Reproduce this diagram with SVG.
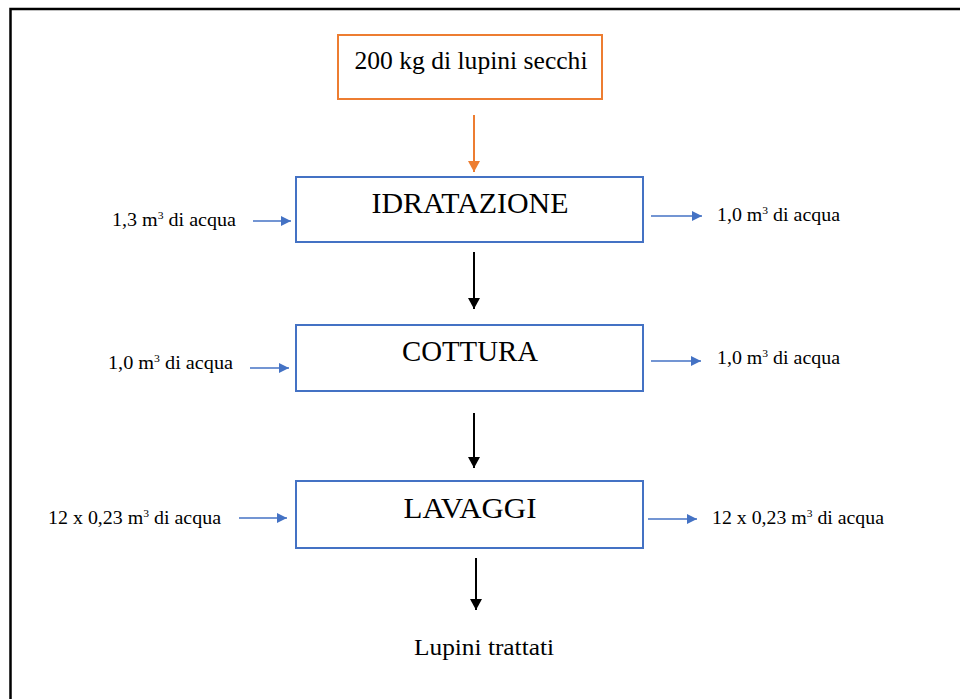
<svg xmlns="http://www.w3.org/2000/svg" width="960" height="699" viewBox="0 0 960 699">
<style>
.t{font-family:"Liberation Serif","Times New Roman",serif;fill:#000}
.lbl{font-size:19px}
.box{fill:#fff;stroke:#4472C4;stroke-width:2}
.ob{fill:#fff;stroke:#ED7D31;stroke-width:2}
.bl{stroke:#4472C4;stroke-width:1.3;fill:none}
.bk{stroke:#000;stroke-width:2;fill:none}
.or{stroke:#ED7D31;stroke-width:2;fill:none}
</style>
<defs>
<marker id="mb" markerUnits="userSpaceOnUse" markerWidth="12" markerHeight="10" refX="10" refY="5" orient="auto"><path d="M0,0 L10,5 L0,10 Z" fill="#4472C4"/></marker>
<marker id="mk" markerUnits="userSpaceOnUse" markerWidth="12" markerHeight="12" refX="11" refY="6" orient="auto"><path d="M0,0 L11,6 L0,12 Z" fill="#000"/></marker>
<marker id="mo" markerUnits="userSpaceOnUse" markerWidth="12" markerHeight="12" refX="11" refY="6" orient="auto"><path d="M0,0 L11,6 L0,12 Z" fill="#ED7D31"/></marker>
</defs>
<rect width="960" height="699" fill="#fff"/>
<path d="M10.5,699 V9 H960" stroke="#000" stroke-width="2.5" fill="none"/>

<g id="input">
<rect class="ob" x="338" y="35" width="264" height="64"/>
<text class="t" x="471" y="69" font-size="25" text-anchor="middle" textLength="233" lengthAdjust="spacingAndGlyphs">200 kg di lupini secchi</text>
</g>
<g id="idratazione">
<rect class="box" x="296" y="177" width="347" height="65"/>
<text class="t" x="470" y="213" font-size="30" text-anchor="middle" textLength="197" lengthAdjust="spacingAndGlyphs">IDRATAZIONE</text>
</g>
<g id="cottura">
<rect class="box" x="296" y="325" width="347" height="66"/>
<text class="t" x="470" y="361" font-size="30" text-anchor="middle" textLength="136" lengthAdjust="spacingAndGlyphs">COTTURA</text>
</g>
<g id="lavaggi">
<rect class="box" x="296" y="481" width="347" height="67"/>
<text class="t" x="470" y="518" font-size="30" text-anchor="middle" textLength="133" lengthAdjust="spacingAndGlyphs">LAVAGGI</text>
</g>
<g id="output">
<text class="t" x="484" y="655" font-size="23" text-anchor="middle" textLength="140" lengthAdjust="spacingAndGlyphs">Lupini trattati</text>
</g>

<g id="labels">
<text class="t lbl" x="112" y="226" textLength="124" lengthAdjust="spacingAndGlyphs">1,3 m<tspan font-size="11" dy="-7">3</tspan><tspan dy="7"> di acqua</tspan></text>
<text class="t lbl" x="717" y="221" textLength="123" lengthAdjust="spacingAndGlyphs">1,0 m<tspan font-size="11" dy="-7">3</tspan><tspan dy="7"> di acqua</tspan></text>
<text class="t lbl" x="108" y="369" textLength="125" lengthAdjust="spacingAndGlyphs">1,0 m<tspan font-size="11" dy="-7">3</tspan><tspan dy="7"> di acqua</tspan></text>
<text class="t lbl" x="717" y="364" textLength="123" lengthAdjust="spacingAndGlyphs">1,0 m<tspan font-size="11" dy="-7">3</tspan><tspan dy="7"> di acqua</tspan></text>
<text class="t lbl" x="48" y="524" textLength="173" lengthAdjust="spacingAndGlyphs">12 x 0,23 m<tspan font-size="11" dy="-7">3</tspan><tspan dy="7"> di acqua</tspan></text>
<text class="t lbl" x="712" y="524" textLength="172" lengthAdjust="spacingAndGlyphs">12 x 0,23 m<tspan font-size="11" dy="-7">3</tspan><tspan dy="7"> di acqua</tspan></text>
</g>

<g id="connectors">
<line class="or" x1="474" y1="115" x2="474" y2="172" marker-end="url(#mo)"/>
<line class="bk" x1="474" y1="252" x2="474" y2="309" marker-end="url(#mk)"/>
<line class="bk" x1="474" y1="413" x2="474" y2="468" marker-end="url(#mk)"/>
<line class="bk" x1="476" y1="558" x2="476" y2="610" marker-end="url(#mk)"/>
<line class="bl" x1="253" y1="221" x2="291" y2="221" marker-end="url(#mb)"/>
<line class="bl" x1="651" y1="216" x2="702" y2="216" marker-end="url(#mb)"/>
<line class="bl" x1="250" y1="368" x2="289" y2="368" marker-end="url(#mb)"/>
<line class="bl" x1="651" y1="361" x2="701" y2="361" marker-end="url(#mb)"/>
<line class="bl" x1="239" y1="518" x2="287" y2="518" marker-end="url(#mb)"/>
<line class="bl" x1="648" y1="519" x2="697" y2="519" marker-end="url(#mb)"/>
</g>
</svg>
